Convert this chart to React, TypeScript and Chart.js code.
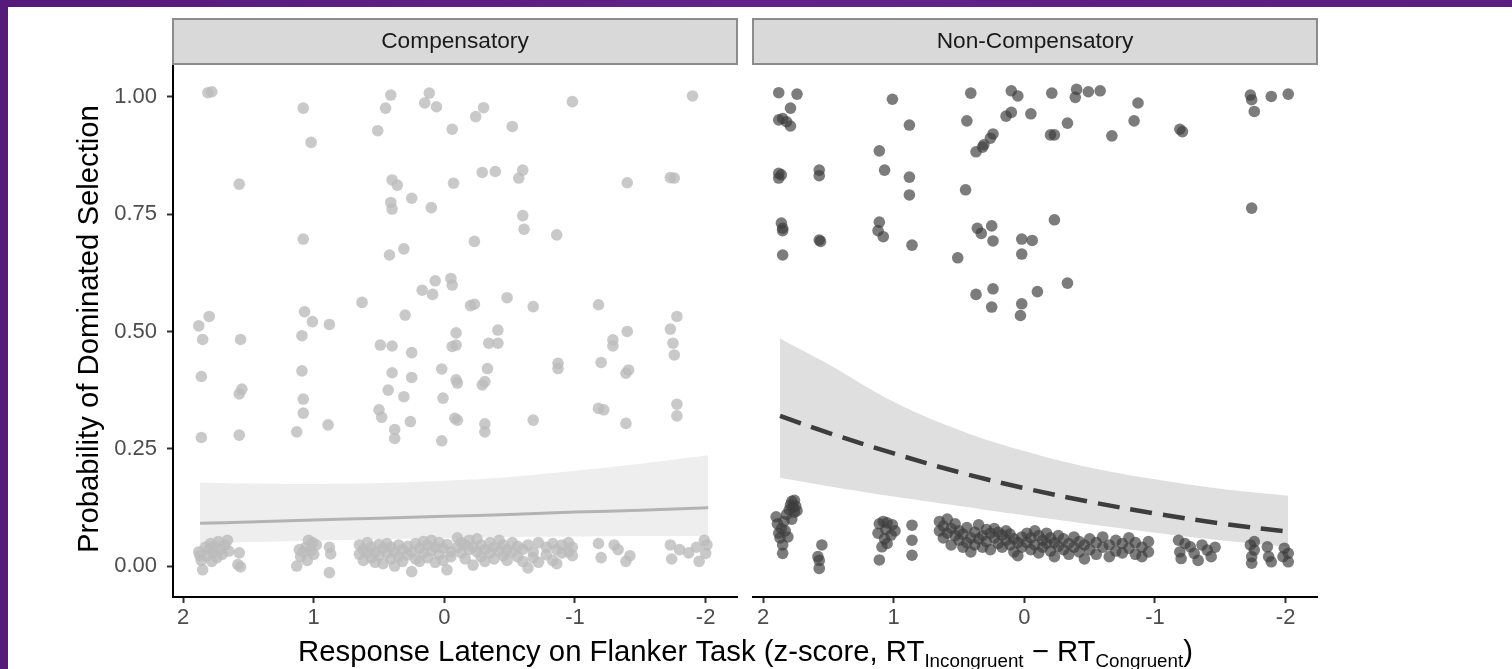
import React, { useEffect, useRef } from 'react';
import { Chart, registerables } from 'chart.js';

Chart.register(...registerables);

const FONT = '"Liberation Sans", Arial, sans-serif';

// ---------- axis ticks ----------
const xTicks = [2, 1, 0, -1, -2];
const yTicks = [0, 0.25, 0.5, 0.75, 1];
const panelLabels = ['Compensatory', 'Non-Compensatory'];

// ---------- Compensatory: scattered (upper) observations ----------
const compHighX = [1.81, 1.78, 1.08, 1.02, 1.57, 0.41, 0.45, 0.51, 0.115, 0.15, 0.06, -0.06, -0.24, -0.30, -0.52, -0.98, -1.90,
  0.40, 0.36, 0.41, 0.40, 0.25, 0.10, -0.07, -0.29, -0.39, -0.60, -0.57, -1.40, -1.73, -1.76, -0.60, -0.61, -0.86, -0.23,
  1.08, 0.42, 0.31, 0.63, 0.17, 0.09, 0.07, -0.05, -0.06, -0.20, -0.23, -0.48, -0.68, -1.18, -1.40, -1.73, -1.78,
  1.88, 1.80, 1.85, 1.56, 1.07, 1.01, 0.88, 1.09, 0.30, -0.09, -0.41, 0.49, 0.40, 0.25, -0.06, -0.09, -0.34, -0.41,
  -1.29, -1.29, -1.75, -1.76, 1.86, 1.09, 1.57, 1.55, 1.08, 1.08, 1.13, 1.86, 1.57, 0.89, 0.40, 0.25, 0.43, 0.31, 0.02,
  0.01, 0.50, 0.48, 0.38, 0.38, 0.26, 0.02, -0.09, -0.10, -0.08, -0.10, -0.29, -0.31, -0.33, -0.31, -0.31, -0.68, -0.87,
  -0.87, -1.20, -1.39, -1.41, -1.18, -1.22, -1.39, -1.78, -1.78];
const compHighY = [1.009, 1.011, 0.976, 0.903, 0.814, 1.004, 0.976, 0.928, 1.008, 0.987, 0.979, 0.931, 0.958, 0.977, 0.937, 0.990, 1.002,
  0.823, 0.812, 0.775, 0.761, 0.784, 0.764, 0.816, 0.839, 0.841, 0.844, 0.827, 0.817, 0.828, 0.827, 0.747, 0.718, 0.706, 0.692,
  0.697, 0.663, 0.676, 0.562, 0.588, 0.579, 0.608, 0.613, 0.599, 0.555, 0.558, 0.572, 0.553, 0.557, 0.500, 0.505, 0.532,
  0.512, 0.532, 0.483, 0.483, 0.542, 0.521, 0.515, 0.491, 0.535, 0.497, 0.503, 0.471, 0.469, 0.455, 0.468, 0.471, 0.475, 0.475,
  0.482, 0.469, 0.475, 0.450, 0.404, 0.416, 0.367, 0.377, 0.356, 0.326, 0.286, 0.274, 0.279, 0.301, 0.412, 0.402, 0.375, 0.361, 0.420,
  0.358, 0.333, 0.317, 0.291, 0.272, 0.308, 0.267, 0.397, 0.390, 0.315, 0.311, 0.386, 0.393, 0.421, 0.303, 0.286, 0.311, 0.432,
  0.421, 0.434, 0.411, 0.418, 0.336, 0.333, 0.304, 0.345, 0.320];

// ---------- Compensatory: observations near zero ----------
const compLowX = [1.88, 1.86, 1.85, 1.83, 1.82, 1.80, 1.79, 1.77, 1.76, 1.74, 1.73, 1.71, 1.70, 1.68, 1.66, 1.65, 1.87, 1.78,
  1.57, 1.58, 1.56, 1.13, 1.10, 1.08, 1.06, 1.04, 1.02, 1.00, 0.98, 1.05, 1.11, 1.01, 0.88, 0.87, 0.88,
  0.65, 0.65, 0.62, 0.62, 0.59, 0.59, 0.56, 0.56, 0.53, 0.53, 0.50, 0.50, 0.47, 0.47, 0.44, 0.44, 0.41, 0.41, 0.38, 0.38,
  0.35, 0.35, 0.32, 0.32, 0.28, 0.28, 0.25, 0.25, 0.22, 0.22, 0.19, 0.19, 0.16, 0.16, 0.13, 0.13, 0.10, 0.10, 0.07, 0.07,
  0.04, 0.04, 0.01, 0.01, -0.02, -0.02, -0.05, -0.05, -0.10, -0.10, -0.13, -0.13, -0.16, -0.16, -0.19, -0.19, -0.22, -0.22,
  -0.25, -0.25, -0.28, -0.28, -0.31, -0.31, -0.35, -0.35, -0.38, -0.38, -0.42, -0.42, -0.45, -0.45, -0.48, -0.48, -0.52, -0.52,
  -0.56, -0.56, -0.60, -0.60, -0.64, -0.64, -0.68, -0.68, -0.72, -0.72, -0.78, -0.78, -0.83, -0.83, -0.86, -0.86, -0.90, -0.90,
  -0.95, -0.95, -0.98, -0.98, -1.18, -1.20, -1.30, -1.33, -1.39, -1.42, -1.73, -1.74, -1.80, -1.87, -1.93, -1.99, -2.00, -2.01, -1.95];
const compLowY = [0.030, 0.012, -0.008, 0.040, 0.022, 0.035, 0.048, 0.028, 0.042, 0.018, 0.052, 0.036, 0.025, 0.045, 0.055, 0.032, 0.022, 0.010,
  0.028, 0.003, -0.002, 0.000, 0.020, 0.030, 0.040, 0.055, 0.033, 0.025, 0.045, 0.012, 0.035, 0.050, 0.040, 0.026, -0.014,
  0.045, 0.025, 0.035, 0.012, 0.050, 0.028, 0.040, 0.018, 0.030, 0.008, 0.046, 0.022, 0.038, 0.005, 0.028, 0.048, 0.040, 0.015, 0.030, 0.000,
  0.045, 0.020, 0.010, 0.035, 0.042, 0.024, -0.012, 0.030, 0.048, 0.015, 0.038, 0.010, 0.052, 0.028, 0.045, 0.018, 0.055, 0.032, 0.040, 0.008,
  0.025, 0.050, 0.038, 0.012, 0.046, -0.008, 0.030, 0.020, 0.060, 0.040, 0.050, 0.028, 0.045, 0.015, 0.055, 0.035, 0.040, 0.002,
  0.058, 0.030, 0.045, 0.020, 0.035, 0.010, 0.050, 0.028, 0.040, 0.015, 0.055, 0.032, 0.045, 0.022, 0.035, 0.012, 0.050, 0.030,
  0.042, 0.020, 0.036, 0.010, 0.045, -0.004, 0.030, 0.018, 0.050, 0.008, 0.040, 0.024, 0.048, 0.012, 0.035, 0.005, 0.045, 0.028,
  0.050, 0.030, 0.040, 0.022, 0.048, 0.018, 0.045, 0.035, 0.010, 0.022, 0.045, 0.015, 0.035, 0.028, 0.040, 0.055, 0.027, 0.045, 0.010];

// ---------- Non-Compensatory: scattered (upper) observations ----------
const nonHighX = [1.88, 1.74, 1.79, 1.88, 1.85, 1.82, 1.79, 1.01, 0.88, 1.11, 1.07, 0.88, 0.88, 1.88, 1.88, 1.86, 1.57, 1.57,
  1.86, 1.85, 1.85, 1.57, 1.56, 1.85, 1.11, 1.12, 1.08, 0.86, 0.41, 0.44, 0.10, 0.05, 0.14, 0.10, -0.05, 0.24, 0.26, 0.31,
  0.37, 0.32, -0.21, -0.40, -0.39, -0.49, -0.58, -0.33, -0.20, -0.23, -0.67, -0.87, -0.84, -1.19, -1.21, -1.73, -1.74, -1.76,
  -1.89, -2.02, -1.74, 0.45, 0.36, 0.33, 0.25, 0.24, 0.02, -0.06, 0.02, -0.23, 0.51, 0.37, 0.24, 0.25, 0.02, 0.03, -0.10, -0.33];
const nonHighY = [1.009, 1.006, 0.976, 0.951, 0.954, 0.947, 0.938, 0.995, 0.940, 0.885, 0.844, 0.829, 0.791, 0.837, 0.827, 0.834, 0.844, 0.832,
  0.731, 0.720, 0.715, 0.695, 0.692, 0.663, 0.733, 0.715, 0.702, 0.684, 1.008, 0.949, 1.013, 1.002, 0.959, 0.967, 0.964, 0.921, 0.912, 0.898,
  0.883, 0.893, 1.008, 1.016, 0.999, 1.011, 1.013, 0.944, 0.919, 0.919, 0.917, 0.987, 0.949, 0.931, 0.926, 1.004, 0.994, 0.969,
  1.001, 1.006, 0.763, 0.802, 0.720, 0.709, 0.725, 0.693, 0.697, 0.694, 0.665, 0.738, 0.657, 0.579, 0.591, 0.552, 0.559, 0.534, 0.585, 0.603];

// ---------- Non-Compensatory: observations near zero ----------
const nonLowX = [1.90, 1.89, 1.88, 1.87, 1.86, 1.85, 1.84, 1.83, 1.82, 1.80, 1.79, 1.78, 1.77, 1.76, 1.76, 1.75, 1.74, 1.85, 1.81, 1.78,
  1.55, 1.58, 1.57, 1.57, 1.11, 1.08, 1.05, 1.01, 1.06, 1.02, 1.12, 1.09, 1.11, 1.05, 0.99, 1.07, 0.86, 0.86, 0.86,
  0.65, 0.65, 0.62, 0.62, 0.59, 0.59, 0.56, 0.56, 0.53, 0.53, 0.50, 0.50, 0.47, 0.47, 0.44, 0.44, 0.41, 0.41, 0.38, 0.38,
  0.35, 0.35, 0.32, 0.32, 0.29, 0.29, 0.26, 0.26, 0.23, 0.23, 0.20, 0.20, 0.17, 0.17, 0.14, 0.14, 0.11, 0.11, 0.08, 0.08,
  0.05, 0.05, 0.02, 0.02, -0.02, -0.02, -0.05, -0.05, -0.08, -0.08, -0.11, -0.11, -0.14, -0.14, -0.17, -0.17, -0.20, -0.20,
  -0.23, -0.23, -0.26, -0.26, -0.30, -0.30, -0.34, -0.34, -0.38, -0.38, -0.42, -0.42, -0.46, -0.46, -0.50, -0.50, -0.55, -0.55,
  -0.60, -0.60, -0.65, -0.65, -0.70, -0.70, -0.75, -0.75, -0.80, -0.80, -0.85, -0.85, -0.90, -0.90, -0.95, -0.95,
  -1.18, -1.19, -1.20, -1.23, -1.27, -1.30, -1.36, -1.40, -1.43, -1.46, -1.33,
  -1.73, -1.74, -1.74, -1.76, -1.86, -1.87, -1.89, -1.99, -2.02, -2.02, -1.98, -1.76];
const nonLowY = [0.105, 0.090, 0.070, 0.060, 0.080, 0.045, 0.095, 0.075, 0.110, 0.120, 0.130, 0.138, 0.125, 0.140, 0.115, 0.128, 0.118, 0.027, 0.062, 0.100,
  0.045, 0.020, 0.012, -0.005, 0.090, 0.095, 0.092, 0.088, 0.078, 0.066, 0.070, 0.041, 0.013, 0.048, 0.075, 0.058, 0.087, 0.055, 0.023,
  0.095, 0.075, 0.085, 0.060, 0.100, 0.070, 0.080, 0.045, 0.065, 0.090, 0.055, 0.075, 0.040, 0.068, 0.082, 0.050, 0.060, 0.030, 0.072, 0.045,
  0.088, 0.058, 0.065, 0.040, 0.078, 0.052, 0.070, 0.035, 0.080, 0.060, 0.072, 0.048, 0.066, 0.040, 0.075, 0.055, 0.068, 0.045, 0.058, 0.030,
  0.050, 0.022, 0.062, 0.040, 0.070, 0.050, 0.060, 0.035, 0.075, 0.045, 0.065, 0.028, 0.055, 0.040, 0.070, 0.048, 0.060, 0.032,
  0.050, 0.020, 0.065, 0.042, 0.058, 0.035, 0.048, 0.025, 0.062, 0.040, 0.052, 0.030, 0.045, 0.015, 0.058, 0.035, 0.050, 0.025,
  0.062, 0.040, 0.045, 0.020, 0.055, 0.032, 0.048, 0.028, 0.060, 0.038, 0.050, 0.025, 0.040, 0.020, 0.052, 0.030,
  0.055, 0.030, 0.016, 0.048, 0.041, 0.027, 0.045, 0.034, 0.020, 0.040, 0.012,
  0.045, 0.020, 0.006, 0.034, 0.041, 0.020, 0.009, 0.038, 0.027, 0.009, 0.020, 0.052];

// ---------- fitted curves and 95% bands ----------
const fitX = [1.87, 1.5, 1.0, 0.5, 0.0, -0.5, -1.0, -1.5, -2.02];
const compFit = [0.091, 0.094, 0.098, 0.102, 0.106, 0.110, 0.115, 0.119, 0.124];
const compUpper = [0.178, 0.176, 0.175, 0.177, 0.182, 0.190, 0.203, 0.218, 0.236];
const compLower = [0.047, 0.051, 0.054, 0.057, 0.060, 0.062, 0.063, 0.064, 0.064];
const nonFit = [0.320, 0.284, 0.240, 0.200, 0.166, 0.137, 0.112, 0.091, 0.073];
const nonUpper = [0.485, 0.430, 0.350, 0.290, 0.245, 0.210, 0.185, 0.165, 0.150];
const nonLower = [0.188, 0.170, 0.148, 0.128, 0.108, 0.089, 0.071, 0.055, 0.041];

const pts = (xs: number[], ys: number[]) => xs.map((x, i) => ({ x, y: ys[i] }));

const X_MIN = -2.24;
const X_MAX = 2.077;
const Y_MIN = -0.066;
const Y_MAX = 1.068;

function xScale() {
  return {
    type: 'linear',
    min: X_MIN,
    max: X_MAX,
    reverse: true,
    afterFit: (s: any) => { s.height = 72; },
    afterBuildTicks: (s: any) => { s.ticks = xTicks.map((v) => ({ value: v })); },
    ticks: {
      autoSkip: false,
      maxRotation: 0,
      padding: 2,
      color: '#4d4d4d',
      font: { family: FONT, size: 22 },
      callback: (v: any) => String(v),
    },
    grid: { display: true, drawOnChartArea: false, drawTicks: true, tickLength: 6, tickColor: '#333', tickWidth: 2 },
    border: { display: true, color: '#000', width: 2 },
  };
}

function yScale(show: boolean) {
  return {
    type: 'linear',
    display: show,
    min: Y_MIN,
    max: Y_MAX,
    afterFit: (s: any) => { s.width = show ? 173 : 0; },
    afterBuildTicks: (s: any) => { s.ticks = yTicks.map((v) => ({ value: v })); },
    ticks: {
      autoSkip: false,
      padding: 10,
      color: '#4d4d4d',
      font: { family: FONT, size: 22 },
      callback: (v: any) => Number(v).toFixed(2),
    },
    grid: { display: true, drawOnChartArea: false, drawTicks: true, tickLength: 6, tickColor: '#333', tickWidth: 2 },
    border: { display: true, color: '#000', width: 2 },
  };
}

function stripPlugin(label: string) {
  return {
    id: 'strip_' + label,
    afterDraw(chart: any) {
      const { ctx, chartArea } = chart;
      ctx.save();
      ctx.fillStyle = '#d9d9d9';
      ctx.strokeStyle = '#8c8c8c';
      ctx.lineWidth = 2;
      ctx.fillRect(chartArea.left, 19, chartArea.right - chartArea.left, 45);
      ctx.strokeRect(chartArea.left, 19, chartArea.right - chartArea.left, 45);
      ctx.fillStyle = '#1a1a1a';
      ctx.font = `22.7px ${FONT}`;
      ctx.textAlign = 'center';
      ctx.textBaseline = 'middle';
      ctx.fillText(label, (chartArea.left + chartArea.right) / 2, 42);
      ctx.restore();
    },
  };
}

const titlePlugin = {
  id: 'axisTitles',
  afterDraw(chart: any) {
    const { ctx } = chart;
    ctx.save();
    ctx.fillStyle = '#000';
    ctx.font = `29.3px ${FONT}`;
    ctx.translate(98, 329);
    ctx.rotate(-Math.PI / 2);
    ctx.textAlign = 'center';
    ctx.textBaseline = 'alphabetic';
    ctx.fillText('Probability of Dominated Selection', 0, 0);
    ctx.restore();

    const parts = [
      { t: 'Response Latency on Flanker Task (z-score, RT', sub: false },
      { t: 'Incongruent', sub: true },
      { t: ' \u2212 RT', sub: false },
      { t: 'Congruent', sub: true },
      { t: ')', sub: false },
    ];
    ctx.save();
    ctx.fillStyle = '#000';
    ctx.textAlign = 'left';
    ctx.textBaseline = 'alphabetic';
    const widths = parts.map((p) => {
      ctx.font = `${p.sub ? 18.8 : 29.3}px ${FONT}`;
      return ctx.measureText(p.t).width;
    });
    const total = widths.reduce((a, b) => a + b, 0);
    let x = 745.5 - total / 2;
    parts.forEach((p, i) => {
      ctx.font = `${p.sub ? 18.8 : 29.3}px ${FONT}`;
      ctx.fillText(p.t, x, p.sub ? 667 : 661);
      x += widths[i];
    });
    ctx.restore();
  },
};

function buildConfig(panel: 0 | 1): any {
  const comp = panel === 0;
  const highX = comp ? compHighX : nonHighX;
  const highY = comp ? compHighY : nonHighY;
  const lowX = comp ? compLowX : nonLowX;
  const lowY = comp ? compLowY : nonLowY;
  const fit = comp ? compFit : nonFit;
  const up = comp ? compUpper : nonUpper;
  const lo = comp ? compLower : nonLower;
  const pointColor = comp ? 'rgba(188,188,188,0.8)' : 'rgba(62,62,62,0.68)';
  return {
    type: 'scatter',
    data: {
      datasets: [
        {
          label: 'fit',
          data: pts(fitX, fit),
          showLine: true,
          borderColor: comp ? '#b3b3b3' : '#3d3d3d',
          borderWidth: comp ? 3 : 4.5,
          borderDash: comp ? [] : [22, 11],
          pointRadius: 0,
          tension: 0.4,
          fill: false,
          order: 0,
        },
        {
          label: 'high',
          data: pts(highX, highY),
          pointRadius: 5.8,
          pointBackgroundColor: pointColor,
          pointBorderWidth: 0,
          backgroundColor: pointColor,
          borderWidth: 0,
          order: 1,
        },
        {
          label: 'low',
          data: pts(lowX, lowY),
          pointRadius: 5.8,
          pointBackgroundColor: pointColor,
          pointBorderWidth: 0,
          backgroundColor: pointColor,
          borderWidth: 0,
          order: 1,
        },
        {
          label: 'lower',
          data: pts(fitX, lo),
          showLine: true,
          borderWidth: 0,
          borderColor: 'rgba(0,0,0,0)',
          pointRadius: 0,
          tension: 0.4,
          fill: false,
          order: 3,
        },
        {
          label: 'upper',
          data: pts(fitX, up),
          showLine: true,
          borderWidth: 0,
          borderColor: 'rgba(0,0,0,0)',
          backgroundColor: comp ? '#eeeeee' : '#dfdfdf',
          pointRadius: 0,
          tension: 0.4,
          fill: '-1',
          order: 2,
        },
      ],
    },
    options: {
      responsive: false,
      animation: false,
      devicePixelRatio: 1,
      events: [],
      layout: { padding: comp ? { left: 0, right: 775, top: 65, bottom: 0 } : { left: 753, right: 195, top: 65, bottom: 0 } },
      plugins: { legend: { display: false }, tooltip: { enabled: false }, title: { display: false } },
      scales: { x: xScale(), y: yScale(comp) },
    },
    plugins: comp ? [stripPlugin(panelLabels[0]), titlePlugin] : [stripPlugin(panelLabels[1])],
  };
}

export default function App() {
  const ref1 = useRef<HTMLCanvasElement>(null);
  const ref2 = useRef<HTMLCanvasElement>(null);
  useEffect(() => {
    Chart.defaults.font.family = FONT;
    const c1 = new Chart(ref1.current as HTMLCanvasElement, buildConfig(0));
    const c2 = new Chart(ref2.current as HTMLCanvasElement, buildConfig(1));
    return () => {
      c1.destroy();
      c2.destroy();
    };
  }, []);
  const canvasStyle: React.CSSProperties = { position: 'absolute', left: 0, top: 0, width: 1512, height: 669 };
  return (
    <div
      style={{
        position: 'absolute',
        left: 0,
        top: 0,
        width: 1512,
        height: 669,
        overflow: 'hidden',
        background: 'linear-gradient(90deg, #561a7a 0%, #62228a 50%, #5a1c80 100%)',
      }}
    >
      <div style={{ position: 'absolute', left: 8, top: 7, right: 0, bottom: 0, background: '#fff' }} />
      <canvas ref={ref1} width={1512} height={669} style={canvasStyle} />
      <canvas ref={ref2} width={1512} height={669} style={canvasStyle} />
    </div>
  );
}
